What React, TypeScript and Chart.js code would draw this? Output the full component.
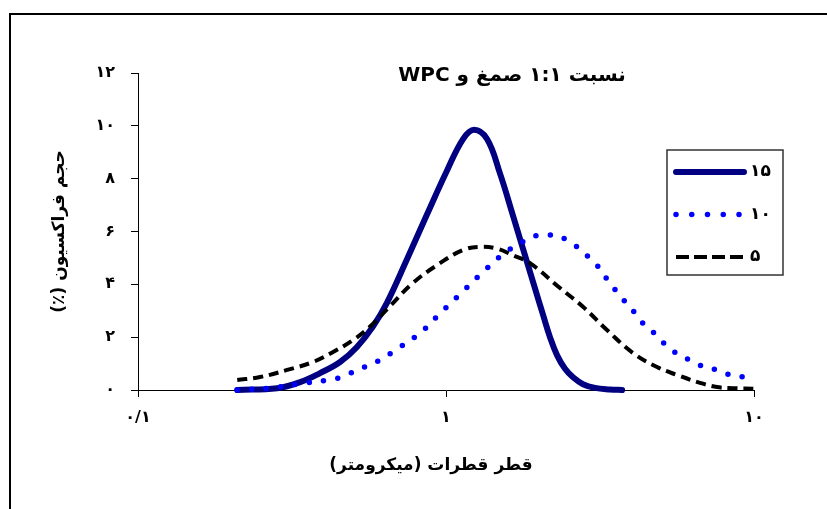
import React, { useEffect, useRef } from 'react';
import { Chart, registerables } from 'chart.js';

Chart.register(...registerables);

// ---- data (droplet diameter in µm, volume fraction in %) ----
const seriesNames = ['۱۵', '۱۰', '۵'];

const sizes15 = [0.21, 0.283, 0.336, 0.39, 0.453, 0.514, 0.579, 0.643, 0.747, 0.868, 1.007, 1.136, 1.233, 1.359, 1.497, 1.65, 1.832, 1.945, 2.065, 2.176, 2.293, 2.435, 2.585, 2.785, 3.047, 3.408, 3.73];
const vol15 = [0, 0.07, 0.3, 0.64, 1.06, 1.63, 2.4, 3.3, 4.95, 6.65, 8.3, 9.5, 9.85, 9.5, 8.2, 6.6, 4.85, 3.85, 2.85, 2.0, 1.32, 0.8, 0.48, 0.22, 0.08, 0.02, 0];

const sizes10 = [0.21, 0.268, 0.328, 0.414, 0.463, 0.514, 0.567, 0.624, 0.683, 0.823, 0.956, 1.127, 1.318, 1.554, 1.713, 1.902, 2.112, 2.345, 2.604, 2.827, 3.069, 3.258, 3.485, 3.728, 4.018, 4.297, 4.665, 5.027, 5.458, 6.017, 6.629, 7.418, 8.234, 9.21, 10];
const vol10 = [0, 0.07, 0.22, 0.38, 0.5, 0.76, 0.95, 1.2, 1.5, 2.15, 2.9, 3.7, 4.47, 5.2, 5.5, 5.8, 5.87, 5.8, 5.5, 5.15, 4.77, 4.35, 3.9, 3.48, 3.05, 2.6, 2.23, 1.84, 1.48, 1.2, 0.95, 0.79, 0.6, 0.5, 0.42];

const sizes5 = [0.21, 0.249, 0.305, 0.37, 0.43, 0.499, 0.567, 0.643, 0.781, 0.956, 1.136, 1.289, 1.464, 1.65, 1.874, 2.345, 2.785, 3.332, 4.047, 4.843, 5.623, 6.679, 7.584, 8.546, 10];
const vol5 = [0.38, 0.49, 0.76, 1.06, 1.44, 1.89, 2.4, 3.05, 4.05, 4.8, 5.3, 5.42, 5.35, 5.1, 4.8, 3.86, 3.15, 2.27, 1.4, 0.87, 0.57, 0.27, 0.11, 0.07, 0.05];

const yTicks = [0, 2, 4, 6, 8, 10, 12];
const yTickLabels = ['۰', '۲', '۴', '۶', '۸', '۱۰', '۱۲'];
const xTicks = [0.1, 1, 10];
const xTickLabels = ['۰/۱', '۱', '۱۰'];

const chartTitle = 'نسبت ۱:۱ صمغ و WPC';
const xTitle = 'قطر قطرات (میکرومتر)';
const yTitle = 'حجم فراکسیون (٪)';

const FONT = "'DejaVu Sans', sans-serif";

export default function App() {
  const ref = useRef<HTMLCanvasElement>(null);

  useEffect(() => {
    document.body.style.margin = '0';
    const canvas = ref.current!;
    const toPts = (xs: number[], ys: number[]) => xs.map((x, i) => ({ x, y: ys[i] }));

    const lineStyles = [
      { color: '#000080', width: 6, dash: [] as number[], cap: 'round', legendDash: [] as number[] },
      { color: '#0000FF', width: 5.5, dash: [0, 14.5], cap: 'round', legendDash: [0, 15.75] },
      { color: '#000000', width: 4, dash: [10, 6], cap: 'butt', legendDash: [13, 5] },
    ];

    const framePlugin = {
      id: 'frame',
      beforeDraw(chart: any) {
        const ctx = chart.ctx;
        ctx.save();
        ctx.fillStyle = '#ffffff';
        ctx.fillRect(0, 0, chart.width, chart.height);
        ctx.strokeStyle = '#000000';
        ctx.lineWidth = 2;
        ctx.beginPath();
        ctx.moveTo(10, chart.height + 5);
        ctx.lineTo(10, 14);
        ctx.lineTo(chart.width + 5, 14);
        ctx.stroke();
        ctx.restore();
      },
    };

    const textPlugin = {
      id: 'ctexts',
      afterDraw(chart: any) {
        const ctx = chart.ctx;
        ctx.save();
        ctx.fillStyle = '#000';
        ctx.textAlign = 'center';
        ctx.textBaseline = 'middle';
        ctx.font = `bold 20px ${FONT}`;
        ctx.fillText(chartTitle, 512, 76);
        ctx.font = `bold 17px ${FONT}`;
        ctx.fillText(xTitle, 431, 466);
        ctx.restore();
      },
    };

    const legendPlugin = {
      id: 'clegend',
      afterDraw(chart: any) {
        const ctx = chart.ctx;
        ctx.save();
        ctx.fillStyle = '#ffffff';
        ctx.fillRect(667, 150, 116, 125);
        ctx.strokeStyle = '#333333';
        ctx.lineWidth = 1.5;
        ctx.strokeRect(667, 150, 116, 125);
        seriesNames.forEach((name, i) => {
          const st = lineStyles[i];
          const y = 172 + i * 42.5;
          ctx.strokeStyle = st.color;
          ctx.lineWidth = st.width;
          ctx.lineCap = st.cap;
          ctx.setLineDash(st.legendDash);
          ctx.beginPath();
          ctx.moveTo(676, y);
          ctx.lineTo(744, y);
          ctx.stroke();
          ctx.setLineDash([]);
          ctx.fillStyle = '#000';
          ctx.font = `bold 17px ${FONT}`;
          ctx.textAlign = 'left';
          ctx.textBaseline = 'middle';
          ctx.fillText(name, 750, y);
        });
        ctx.restore();
      },
    };

    const allSizes = [sizes15, sizes10, sizes5];
    const allVols = [vol15, vol10, vol5];

    const chart = new Chart(canvas, {
      type: 'scatter',
      data: {
        datasets: seriesNames.map((name, i) => ({
          label: name,
          data: toPts(allSizes[i], allVols[i]),
          showLine: true,
          borderColor: lineStyles[i].color,
          backgroundColor: lineStyles[i].color,
          borderWidth: lineStyles[i].width,
          borderDash: lineStyles[i].dash,
          borderCapStyle: lineStyles[i].cap as any,
          borderJoinStyle: 'round',
          pointRadius: 0,
          pointHoverRadius: 0,
          tension: 0.4,
          clip: false as any,
          order: 3 - i,
        })),
      },
      options: {
        responsive: false,
        animation: false,
        events: [],
        layout: { padding: { left: 0, top: 73, right: 73, bottom: 0 } },
        plugins: {
          legend: { display: false },
          tooltip: { enabled: false },
          title: { display: false },
        },
        scales: {
          x: {
            type: 'logarithmic',
            min: 0.1,
            max: 10,
            afterFit: (s: any) => { s.height = 119; },
            afterBuildTicks: (s: any) => { s.ticks = xTicks.map((v) => ({ value: v })); },
            ticks: {
              autoSkip: false,
              maxRotation: 0,
              padding: 11,
              color: '#000',
              font: { family: FONT, size: 16, weight: 'bold' },
              callback: (v: any) => xTickLabels[xTicks.indexOf(Number(v))] ?? '',
            },
            grid: { drawOnChartArea: false, drawTicks: true, tickLength: 7, color: '#000', lineWidth: 1 },
            border: { display: true, color: '#000', width: 1 },
            title: { display: false },
          },
          y: {
            type: 'linear',
            min: 0,
            max: 12,
            afterFit: (s: any) => { s.width = 138; },
            afterBuildTicks: (s: any) => { s.ticks = yTicks.map((v) => ({ value: v })); },
            ticks: {
              padding: 16,
              color: '#000',
              font: { family: FONT, size: 16, weight: 'bold' },
              callback: (v: any) => yTickLabels[yTicks.indexOf(Number(v))] ?? '',
            },
            grid: { drawOnChartArea: false, drawTicks: true, tickLength: 7, color: '#000', lineWidth: 1 },
            border: { display: true, color: '#000', width: 1 },
            title: {
              display: true,
              text: yTitle,
              color: '#000',
              font: { family: FONT, size: 17, weight: 'bold' },
              padding: { top: 49, bottom: 0 },
            },
          },
        },
      },
      plugins: [framePlugin, textPlugin, legendPlugin],
    } as any);

    return () => chart.destroy();
  }, []);

  return (
    <canvas
      ref={ref}
      width={827}
      height={509}
      style={{ display: 'block', width: 827, height: 509, direction: 'rtl' }}
    />
  );
}
